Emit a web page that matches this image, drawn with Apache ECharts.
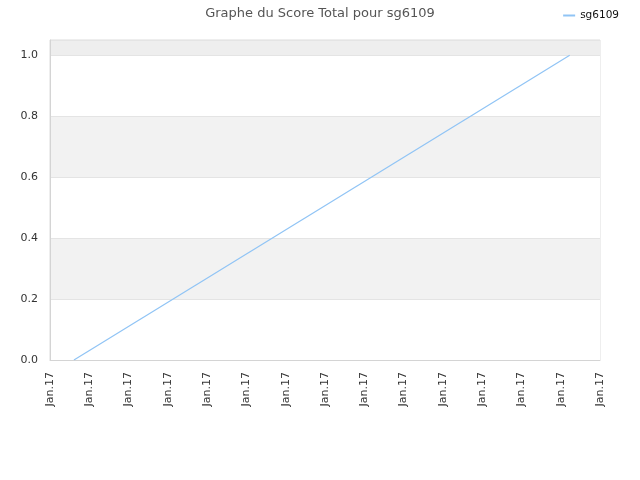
<!DOCTYPE html>
<html>
<head>
<meta charset="utf-8">
<script src="https://cdn.jsdelivr.net/npm/echarts@6/dist/echarts.min.js"></script>
<style>
    html, body {margin: 0; padding: 0; background: #fff;}
    #chartdiv {width: 640px; height: 480px;}
</style>
</head>
<body>
<div id="chartdiv"></div>
<script>
// x positions are in tick steps (0..14), all ticks read "Jan.17"
var tick_labels = ['Jan.17', 'Jan.17', 'Jan.17', 'Jan.17', 'Jan.17', 'Jan.17', 'Jan.17', 'Jan.17',
    'Jan.17', 'Jan.17', 'Jan.17', 'Jan.17', 'Jan.17', 'Jan.17', 'Jan.17']
var x_pos = [0.61, 13.23]
var scores = [0, 1]
var series_name = 'sg6109'

var points = x_pos.map(function (x, i) {
    return [x, scores[i]]
})

var chartDom = document.getElementById('chartdiv');
var myChart = echarts.init(chartDom);
var option;

option = {
    animation: false,
    textStyle: {fontFamily: 'DejaVu Sans'},
    title: {
        text: 'Graphe du Score Total pour sg6109',
        left: 'center',
        top: 2,
        textStyle: {fontSize: 13, fontWeight: 'normal', color: '#555', fontFamily: 'DejaVu Sans'}
    },
    legend: {
        right: 16,
        top: 5,
        itemWidth: 12,
        itemHeight: 2,
        itemGap: 6,
        icon: 'rect',
        textStyle: {fontSize: 10.5, color: '#111', fontFamily: 'DejaVu Sans'},
        data: [series_name]
    },
    grid: {
        left: 50,
        right: 40,
        top: 40,
        bottom: 120,
        show: true,
        borderColor: '#ddd',
        borderWidth: 1,
        backgroundColor: 'transparent'
    },
    xAxis: {
        type: 'value',
        min: 0,
        max: tick_labels.length - 1,
        interval: 1,
        axisLine: {show: true, lineStyle: {color: '#d4d4d4'}},
        axisTick: {show: false},
        splitLine: {show: false},
        axisLabel: {
            rotate: 90,
            fontSize: 11,
            color: '#333',
            margin: 12,
            formatter: function (v) {
                return tick_labels[Math.round(v)]
            }
        }
    },
    yAxis: {
        type: 'value',
        min: 0,
        max: 1.05,
        interval: 0.2,
        axisLine: {show: true, lineStyle: {color: '#d4d4d4'}},
        axisTick: {show: false},
        splitLine: {show: true, lineStyle: {color: '#e4e4e4'}},
        splitArea: {
            show: true,
            areaStyle: {color: ['#ffffff', '#f2f2f2', '#ffffff', '#f2f2f2', '#ffffff', '#eeeeee']}
        },
        axisLabel: {
            fontSize: 11,
            color: '#333',
            margin: 12,
            showMaxLabel: false,
            formatter: function (v) {
                return v.toFixed(1)
            }
        }
    },
    series: [
        {
            name: series_name,
            type: 'line',
            showSymbol: false,
            symbol: 'none',
            color: '#90c4f5',
            lineStyle: {width: 1.2, color: '#90c4f5'},
            data: points
        }
    ]
};

option && myChart.setOption(option);
</script>
</body>
</html>
